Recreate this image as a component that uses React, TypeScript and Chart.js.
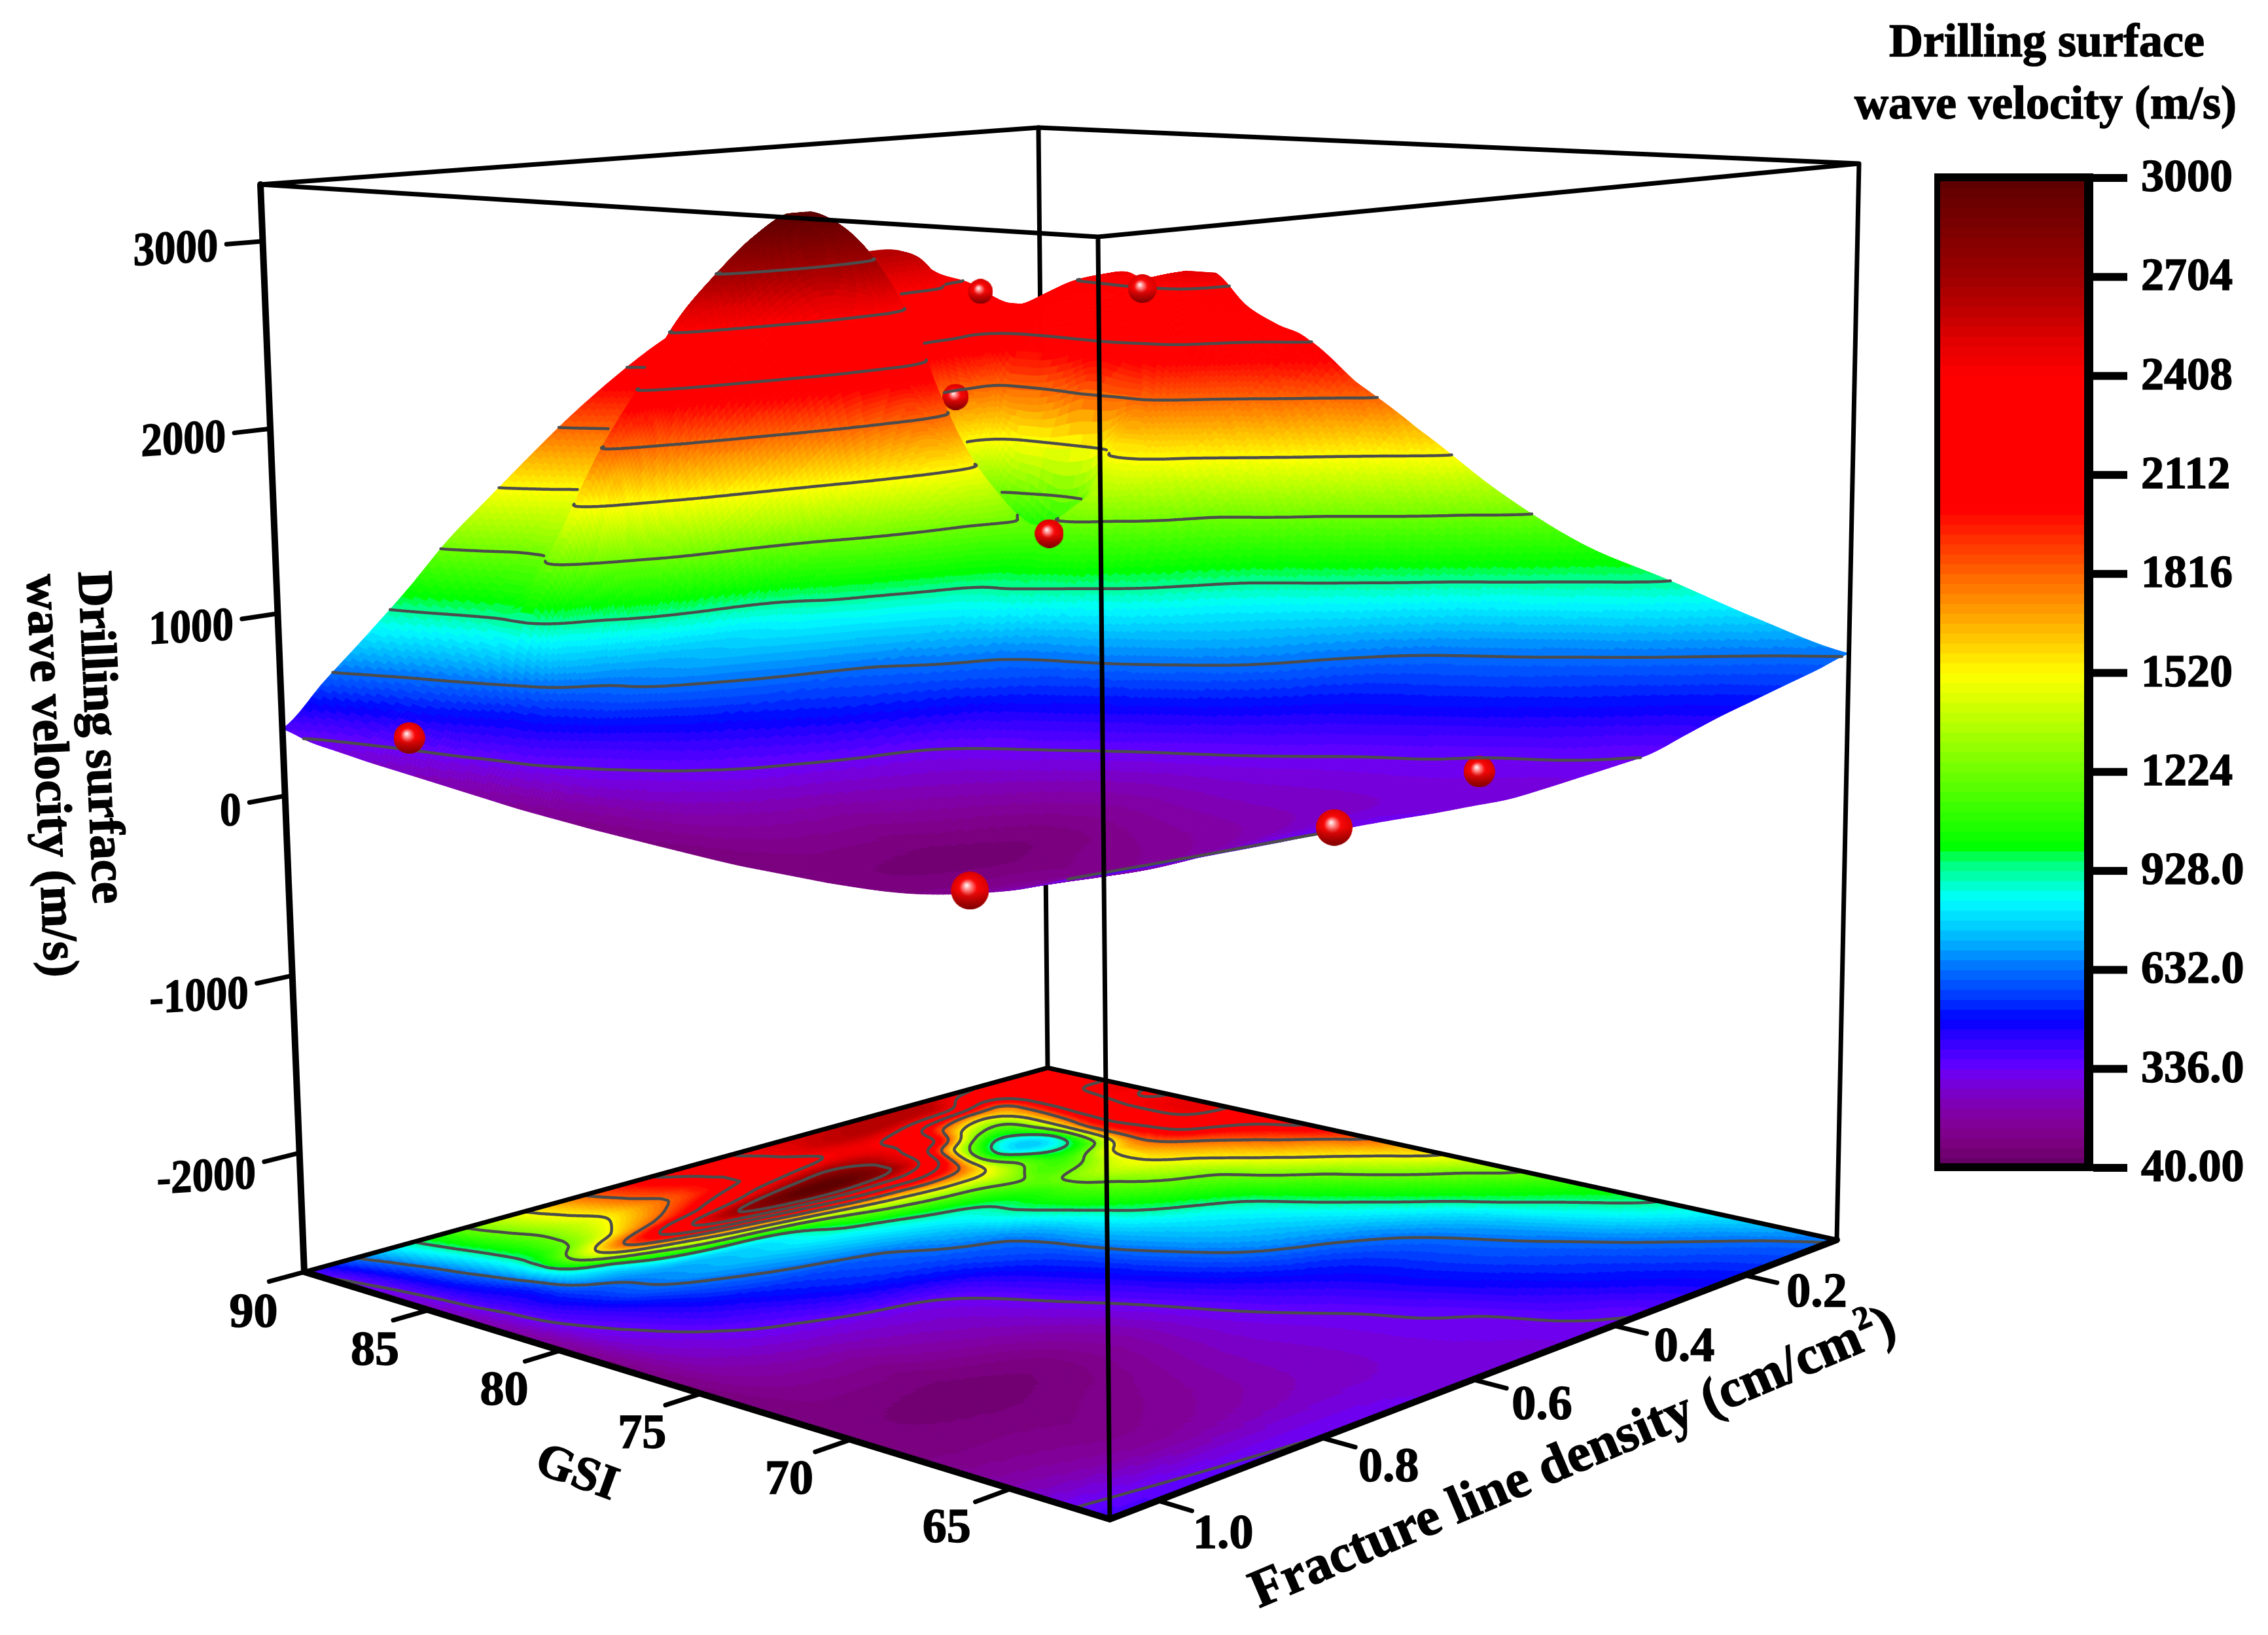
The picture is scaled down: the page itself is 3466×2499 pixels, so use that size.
import { useEffect, useRef } from 'react';
import { Chart, registerables } from 'chart.js';
Chart.register(...registerables);

const W = 3466;
const H = 2499;

// ---------- axis ranges ----------
const GSI_HIGH = 90;
const GSI_LOW = 62.07;
const DENSITY_HIGH = 1.056;
const DENSITY_LOW = 0.05;
const VELOCITY_LOW = -2680;
const VELOCITY_HIGH = 3300;

// ---------- tick labels ----------
const gsiTicks = [90, 85, 80, 75, 70, 65];
const densityTicks = [1.0, 0.8, 0.6, 0.4, 0.2];
const velocityTicks = [3000, 2000, 1000, 0, -1000, -2000];
const colorbarTicks = [3000, 2704, 2408, 2112, 1816, 1520, 1224, 928, 632, 336, 40];
const colorbarLabels = ['3000', '2704', '2408', '2112', '1816', '1520', '1224', '928.0', '632.0', '336.0', '40.00'];
const contourLevels = [336, 632, 928, 1224, 1520, 1816, 2112, 2408, 2704];

// ---------- surface samples ----------
const gsiNodes = [90, 88.88, 87.77, 86.65, 85.53, 84.41, 83.3, 82.18, 81.06, 79.95, 78.27, 76.04, 73.24, 70.45, 67.66, 64.86, 62.07];
const densityNodes = [1.056, 1.006, 0.955, 0.905, 0.855, 0.805, 0.754, 0.704, 0.654, 0.603, 0.553, 0.503, 0.452, 0.402, 0.352, 0.302, 0.251, 0.201, 0.151, 0.1, 0.05];
const velocityRows = [
  [370, 325, 300, 275, 255, 235, 215, 195, 175, 160, 140, 120, 100, 100, 130, 230, 385],
  [590, 530, 480, 450, 420, 395, 365, 345, 315, 290, 250, 200, 140, 100, 125, 215, 375],
  [805, 760, 700, 650, 590, 520, 500, 450, 395, 360, 310, 240, 150, 90, 125, 195, 365],
  [1025, 985, 935, 895, 880, 755, 610, 565, 480, 425, 355, 265, 150, 85, 120, 180, 355],
  [1265, 1205, 1140, 1141, 1316, 880, 692, 645, 560, 480, 390, 285, 185, 95, 135, 190, 345],
  [1465, 1400, 1335, 1410, 1780, 1150, 761, 700, 615, 530, 440, 305, 215, 115, 155, 210, 338],
  [1665, 1590, 1520, 1700, 2120, 1420, 830, 745, 660, 565, 490, 325, 245, 165, 190, 230, 332],
  [1855, 1785, 1720, 1940, 2470, 1650, 900, 795, 700, 600, 525, 365, 285, 215, 230, 250, 320],
  [2025, 1940, 1885, 2200, 2700, 1860, 1050, 860, 745, 640, 560, 430, 340, 270, 265, 265, 305],
  [2180, 2075, 2050, 2440, 2890, 2060, 1260, 945, 800, 700, 600, 500, 405, 330, 290, 280, 295],
  [2310, 2240, 2190, 2620, 3000, 2200, 1450, 1040, 860, 760, 640, 565, 480, 385, 320, 300, 285],
  [2450, 2380, 2330, 2720, 2930, 2220, 1560, 1130, 915, 860, 725, 660, 555, 440, 355, 320, 295],
  [2520, 2520, 2430, 2640, 2710, 2180, 1610, 1190, 1010, 970, 850, 740, 632, 490, 410, 336, 310],
  [2560, 2600, 2440, 2430, 2280, 1880, 1530, 1260, 1120, 1090, 970, 810, 690, 530, 470, 390, 325],
  [2620, 2620, 2300, 2150, 1400, 1060, 1220, 1140, 1270, 1190, 1060, 870, 730, 580, 520, 440, 345],
  [2640, 2560, 1950, 1450, 960, 760, 960, 1210, 1400, 1320, 1140, 945, 790, 630, 565, 490, 400],
  [2620, 2480, 1750, 1280, 1110, 950, 1110, 1540, 1555, 1450, 1230, 1060, 880, 700, 610, 530, 455],
  [2470, 2200, 1780, 1720, 1750, 1840, 1830, 1830, 1720, 1590, 1410, 1170, 985, 790, 670, 575, 500],
  [2380, 2250, 2230, 2230, 2260, 2230, 2180, 2100, 1890, 1750, 1580, 1320, 1090, 910, 760, 625, 545],
  [2210, 2260, 2380, 2410, 2420, 2440, 2420, 2240, 2070, 1930, 1730, 1495, 1200, 1000, 860, 690, 590],
  [2230, 2260, 2400, 2450, 2380, 2480, 2480, 2300, 2200, 2125, 1900, 1650, 1330, 1080, 930, 770, 640],
];

// ---------- measured points (spheres) ----------
const pointGsi = [85.9, 67, 62.1, 63.2, 89.7, 85.9, 87.5, 83.85];
const pointDensity = [1.03, 1.02, 0.78, 0.541, 0.15, 0.056, 0.27, 0.276];
const pointVelocity = [400, 130, 350, 385, 2340, 2360, 1790, 1040];
const pointRadius = [24, 29, 28, 24, 19, 22, 20, 22];
const pointBehindSurface = [false, false, false, true, false, false, true, false];

// ---------- colour map ----------
const colorStopValues = [40, 100, 155, 227, 320, 345, 427, 483, 560, 636, 708, 780, 844, 897, 960, 1001, 1515, 2010, 2408, 2518, 2600, 2696, 2832, 2982, 3000];
const colorStopHex = ['#5f005f', '#78007a', '#800090', '#8000b0', '#7000ee', '#6000ff', '#3000ff', '#0000ff', '#0040ff', '#0070ff', '#00aaff', '#00d8ff', '#00ffff', '#00ffc0', '#00ff70', '#00ff00', '#ffff00', '#ff0000', '#ff0000', '#e00000', '#c00000', '#a00000', '#800000', '#600000', '#5a0000'];
const BAND_COUNT = 100;
const BAND_LOW = 40;
const BAND_STEP = 29.6;

// ---------- view calibration: the box corners as they lie in the picture (L, F, R, B) ----------
const floorCorners = [[465, 1944], [1696, 2322], [2807, 1895], [1601, 1632]];
const topCorners = [[398, 282], [1678, 362], [2841, 250], [1587, 195]];
const HEIGHT_BOW = 0.042;

const FONT = '"Liberation Serif", "Times New Roman", serif';

function squareToQuad(q: number[][]) {
  const [[x0, y0], [x1, y1], [x2, y2], [x3, y3]] = q;
  const dx1 = x1 - x2;
  const dx2 = x3 - x2;
  const sx = x0 - x1 + x2 - x3;
  const dy1 = y1 - y2;
  const dy2 = y3 - y2;
  const sy = y0 - y1 + y2 - y3;
  const den = dx1 * dy2 - dx2 * dy1;
  const g = (sx * dy2 - dx2 * sy) / den;
  const h = (dx1 * sy - sx * dy1) / den;
  return {
    a: x1 - x0 + g * x1, b: x3 - x0 + h * x3, c: x0,
    d: y1 - y0 + g * y1, e: y3 - y0 + h * y3, f: y0,
    g, h,
  };
}
const floorMap = squareToQuad(floorCorners);
const topMap = squareToQuad(topCorners);
function applyMap(m: any, s: number, t: number): [number, number] {
  const D = m.g * s + m.h * t + 1;
  return [(m.a * s + m.b * t + m.c) / D, (m.d * s + m.e * t + m.f) / D];
}

function project(s: number, t: number, w: number): [number, number] {
  const a = applyMap(floorMap, s, t);
  const b = applyMap(topMap, s, t);
  const k = w - HEIGHT_BOW * w * (1 - w);
  return [a[0] + (b[0] - a[0]) * k, a[1] + (b[1] - a[1]) * k];
}

const toS = (g: number) => (GSI_HIGH - g) / (GSI_HIGH - GSI_LOW);
const toT = (d: number) => (DENSITY_HIGH - d) / (DENSITY_HIGH - DENSITY_LOW);
const toW = (v: number) => (v - VELOCITY_LOW) / (VELOCITY_HIGH - VELOCITY_LOW);

function hexRgb(h: string) {
  return [parseInt(h.slice(1, 3), 16), parseInt(h.slice(3, 5), 16), parseInt(h.slice(5, 7), 16)];
}
function colorAt(v: number) {
  let k = 0;
  while (k < colorStopValues.length - 2 && v > colorStopValues[k + 1]) k++;
  const f = Math.max(0, Math.min(1, (v - colorStopValues[k]) / (colorStopValues[k + 1] - colorStopValues[k])));
  const a = hexRgb(colorStopHex[k]);
  const b = hexRgb(colorStopHex[k + 1]);
  return `rgb(${Math.round(a[0] + (b[0] - a[0]) * f)},${Math.round(a[1] + (b[1] - a[1]) * f)},${Math.round(a[2] + (b[2] - a[2]) * f)})`;
}
const bandColors = Array.from({ length: BAND_COUNT }, (_, b) => colorAt(BAND_LOW + (b + 0.5) * BAND_STEP));
const bandOf = (v: number) => Math.max(0, Math.min(BAND_COUNT - 1, Math.floor((v - BAND_LOW) / BAND_STEP)));

function cubic(p0: number, p1: number, p2: number, p3: number, f: number) {
  const v = 0.5 * (2 * p1 + (p2 - p0) * f + (2 * p0 - 5 * p1 + 4 * p2 - p3) * f * f + (3 * p1 - p0 - 3 * p2 + p3) * f * f * f);
  const m = 0.12 * Math.abs(p2 - p1);
  return Math.max(Math.min(p1, p2) - m, Math.min(Math.max(p1, p2) + m, v));
}
function fractionalIndex(nodes: number[], x: number) {
  let k = 0;
  while (k < nodes.length - 2 && x > nodes[k + 1]) k++;
  return k + (x - nodes[k]) / (nodes[k + 1] - nodes[k]);
}

// Render mesh: finer where the surface is steep
const NS_FINE = 230;
const NS_COARSE = 110;
const S_SPLIT = 0.35;
const NS = NS_FINE + NS_COARSE;
const NT = 260;
const meshS = (i: number) =>
  i <= NS_FINE ? (i / NS_FINE) * S_SPLIT : S_SPLIT + ((i - NS_FINE) / NS_COARSE) * (1 - S_SPLIT);
function meshIndexOfS(s: number) {
  return s <= S_SPLIT ? (s / S_SPLIT) * NS_FINE : NS_FINE + ((s - S_SPLIT) / (1 - S_SPLIT)) * NS_COARSE;
}

function buildField() {
  const sNodes = gsiNodes.map(toS);
  const tNodes = densityNodes.map(toT);
  const field = new Float32Array((NS + 1) * (NT + 1));
  const nr = tNodes.length;
  const nc = sNodes.length;
  for (let j = 0; j <= NT; j++) {
    const jf = fractionalIndex(tNodes, j / NT);
    const j0 = Math.min(nr - 2, Math.floor(jf));
    const fj = jf - j0;
    const col = sNodes.map((_, c) =>
      cubic(
        velocityRows[Math.max(0, j0 - 1)][c],
        velocityRows[j0][c],
        velocityRows[j0 + 1][c],
        velocityRows[Math.min(nr - 1, j0 + 2)][c],
        fj,
      ),
    );
    for (let i = 0; i <= NS; i++) {
      const sf = fractionalIndex(sNodes, meshS(i));
      const i0 = Math.min(nc - 2, Math.floor(sf));
      const fi = sf - i0;
      const v = cubic(col[Math.max(0, i0 - 1)], col[i0], col[i0 + 1], col[Math.min(nc - 1, i0 + 2)], fi);
      field[i * (NT + 1) + j] = Math.min(3000, v);
    }
  }
  return field;
}

function sphereSprite(r: number) {
  const c = document.createElement('canvas');
  c.width = c.height = r * 2;
  const g = c.getContext('2d')!;
  const grad = g.createRadialGradient(r * 0.82, r * 0.72, r * 0.03, r, r, r);
  grad.addColorStop(0, '#fff0f0');
  grad.addColorStop(0.2, '#ff8080');
  grad.addColorStop(0.45, '#f80808');
  grad.addColorStop(1, '#d80000');
  g.fillStyle = grad;
  g.beginPath();
  g.arc(r, r, r, 0, Math.PI * 2);
  g.fill();
  const shade = g.createLinearGradient(0, r, 0, r * 2);
  shade.addColorStop(0, 'rgba(90,0,0,0)');
  shade.addColorStop(1, 'rgba(90,0,0,0.7)');
  g.fillStyle = shade;
  g.beginPath();
  g.arc(r, r, r, 0, Math.PI * 2);
  g.fill();
  return c;
}

type Seg = [number, number, number, number, number];

function contourCell(
  va: number, vb: number, vc: number, vd: number,
  ax: number, ay: number, bx: number, by: number, cx: number, cy: number, dx: number, dy: number,
  level: number, order: number, out: Seg[],
) {
  const pts: number[] = [];
  const edge = (v1: number, v2: number, x1: number, y1: number, x2: number, y2: number) => {
    if (v1 < level !== v2 < level) {
      const f = (level - v1) / (v2 - v1);
      pts.push(x1 + (x2 - x1) * f, y1 + (y2 - y1) * f);
    }
  };
  edge(va, vb, ax, ay, bx, by);
  edge(vb, vc, bx, by, cx, cy);
  edge(vc, vd, cx, cy, dx, dy);
  edge(vd, va, dx, dy, ax, ay);
  for (let k = 0; k + 3 < pts.length; k += 4) out.push([pts[k], pts[k + 1], pts[k + 2], pts[k + 3], order]);
}

function renderScene(chart: any) {
  const ctx: CanvasRenderingContext2D = chart.ctx;
  const xs = chart.scales.x;
  const ys = chart.scales.y;
  const field = buildField();
  const stride = NT + 1;
  const count = (NS + 1) * stride;
  const fx = new Float32Array(count);
  const fy = new Float32Array(count);
  const sx = new Float32Array(count);
  const sy = new Float32Array(count);
  for (let i = 0; i <= NS; i++) {
    const s = meshS(i);
    for (let j = 0; j <= NT; j++) {
      const k = i * stride + j;
      const a = project(s, j / NT, 0);
      fx[k] = xs.getPixelForValue(a[0]);
      fy[k] = ys.getPixelForValue(a[1]);
      const b = project(s, j / NT, toW(field[k]));
      sx[k] = xs.getPixelForValue(b[0]);
      sy[k] = ys.getPixelForValue(b[1]);
    }
  }

  // ---- floor map, one path per colour band ----
  ctx.save();
  ctx.lineJoin = 'round';
  ctx.lineWidth = 1.2;
  const floorPaths = bandColors.map(() => new Path2D());
  for (let i = 0; i < NS; i++) {
    for (let j = 0; j < NT; j++) {
      const a = i * stride + j;
      const b = a + stride;
      const c = b + 1;
      const d = a + 1;
      const p = floorPaths[bandOf((field[a] + field[b] + field[c] + field[d]) / 4)];
      p.moveTo(fx[a], fy[a]);
      p.lineTo(fx[b], fy[b]);
      p.lineTo(fx[c], fy[c]);
      p.lineTo(fx[d], fy[d]);
      p.closePath();
    }
  }
  floorPaths.forEach((p, b) => {
    ctx.fillStyle = bandColors[b];
    ctx.strokeStyle = bandColors[b];
    ctx.fill(p);
    ctx.stroke(p);
  });

  const floorSegs: Seg[] = [];
  const surfSegs: Seg[] = [];
  for (let i = 0; i < NS; i++) {
    for (let j = 0; j < NT; j++) {
      const a = i * stride + j;
      const b = a + stride;
      const c = b + 1;
      const d = a + 1;
      const order = i * stride + (NT - j);
      const lo = Math.min(field[a], field[b], field[c], field[d]);
      const hi = Math.max(field[a], field[b], field[c], field[d]);
      for (const level of contourLevels) {
        if (level < lo || level > hi) continue;
        contourCell(field[a], field[b], field[c], field[d], fx[a], fy[a], fx[b], fy[b], fx[c], fy[c], fx[d], fy[d], level, order, floorSegs);
        contourCell(field[a], field[b], field[c], field[d], sx[a], sy[a], sx[b], sy[b], sx[c], sy[c], sx[d], sy[d], level, order, surfSegs);
      }
    }
  }
  ctx.strokeStyle = '#4c4c4c';
  ctx.lineWidth = 4.5;
  ctx.lineCap = 'round';
  ctx.beginPath();
  for (const s of floorSegs) {
    ctx.moveTo(s[0], s[1]);
    ctx.lineTo(s[2], s[3]);
  }
  ctx.stroke();

  // ---- surface, painter's order, far to near ----
  const meta = chart.getDatasetMeta(3);
  const owner = new Int32Array(W * H).fill(-1);
  const behind = new Map<number, number[]>();
  pointGsi.forEach((g, k) => {
    if (!pointBehindSurface[k]) return;
    const i = Math.max(0, Math.min(NS - 1, Math.round(meshIndexOfS(toS(g)))));
    const j = Math.max(0, Math.min(NT - 1, Math.round(toT(pointDensity[k]) * NT)));
    const key = i * stride + j;
    behind.set(key, [...(behind.get(key) || []), k]);
  });
  ctx.lineWidth = 1.2;
  ctx.lineCap = 'butt';
  for (let i = 0; i < NS; i++) {
    let run: Path2D | null = null;
    let runBand = -1;
    const flush = () => {
      if (run) {
        ctx.fillStyle = bandColors[runBand];
        ctx.strokeStyle = bandColors[runBand];
        ctx.fill(run);
        ctx.stroke(run);
      }
      run = null;
      runBand = -1;
    };
    for (let j = NT - 1; j >= 0; j--) {
      const a = i * stride + j;
      const b = a + stride;
      const c = b + 1;
      const d = a + 1;
      const band = bandOf((field[a] + field[b] + field[c] + field[d]) / 4);
      if (band !== runBand) {
        flush();
        run = new Path2D();
        runBand = band;
      }
      run!.moveTo(sx[a], sy[a]);
      run!.lineTo(sx[b], sy[b]);
      run!.lineTo(sx[c], sy[c]);
      run!.lineTo(sx[d], sy[d]);
      run!.closePath();

      const order = i * stride + (NT - j);
      const x0 = Math.max(0, Math.floor(Math.min(sx[a], sx[b], sx[c], sx[d])));
      const x1 = Math.min(W - 1, Math.ceil(Math.max(sx[a], sx[b], sx[c], sx[d])));
      const y0 = Math.max(0, Math.floor(Math.min(sy[a], sy[b], sy[c], sy[d])));
      const y1 = Math.min(H - 1, Math.ceil(Math.max(sy[a], sy[b], sy[c], sy[d])));
      for (let y = y0; y <= y1; y++) {
        for (let x = x0; x <= x1; x++) owner[y * W + x] = order;
      }

      const hidden = behind.get(a);
      if (hidden) {
        flush();
        for (const k of hidden) meta.data[k].draw(ctx, chart.chartArea);
      }
    }
    flush();
  }

  // ---- contour lines over the surface, keeping only the visible stretches ----
  ctx.strokeStyle = '#4c4c4c';
  ctx.lineWidth = 4.5;
  ctx.lineCap = 'round';
  ctx.beginPath();
  const slack = 9 * stride;
  for (const s of surfSegs) {
    const mx = Math.max(0, Math.min(W - 1, Math.round((s[0] + s[2]) / 2)));
    const my = Math.max(0, Math.min(H - 1, Math.round((s[1] + s[3]) / 2)));
    if (owner[my * W + mx] > s[4] + slack) continue;
    ctx.moveTo(s[0], s[1]);
    ctx.lineTo(s[2], s[3]);
  }
  ctx.stroke();

  pointGsi.forEach((_, k) => {
    if (!pointBehindSurface[k]) meta.data[k].draw(ctx, chart.chartArea);
  });
  ctx.restore();
}

function heavyText(ctx: CanvasRenderingContext2D, text: string, x: number, y: number) {
  ctx.fillText(text, x, y);
  ctx.strokeText(text, x, y);
}

function drawColorbar(chart: any) {
  const ctx: CanvasRenderingContext2D = chart.ctx;
  const cb = chart.scales.cb;
  const barTop = 272;
  const barBottom = 1785;
  const yFor = (v: number) => barBottom + ((cb.getPixelForValue(v) - cb.bottom) / (cb.top - cb.bottom)) * (barTop - barBottom);
  ctx.save();
  ctx.beginPath();
  ctx.rect(2965, 277, 220, 1501);
  ctx.clip();
  for (let b = 0; b < BAND_COUNT; b++) {
    const y1 = yFor(BAND_LOW + b * BAND_STEP);
    const y2 = yFor(BAND_LOW + (b + 1) * BAND_STEP);
    ctx.fillStyle = bandColors[b];
    ctx.fillRect(2965, y2 - 0.5, 220, y1 - y2 + 1);
  }
  ctx.restore();
  ctx.save();
  ctx.fillStyle = '#000';
  ctx.strokeStyle = '#000';
  ctx.lineWidth = 1.5;
  ctx.fillRect(2956, 265, 9, 1525);
  ctx.fillRect(3185, 265, 14, 1525);
  ctx.fillRect(2956, 265, 243, 12);
  ctx.fillRect(2956, 1778, 243, 12);
  ctx.font = `bold 70px ${FONT}`;
  ctx.textBaseline = 'middle';
  ctx.textAlign = 'left';
  colorbarTicks.forEach((v, k) => {
    const y = yFor(v);
    ctx.fillRect(3199, y - 6, 52, 12);
    heavyText(ctx, colorbarLabels[k], 3272, y + 2);
  });
  ctx.textAlign = 'center';
  ctx.textBaseline = 'alphabetic';
  ctx.font = `bold 72px ${FONT}`;
  heavyText(ctx, 'Drilling surface', 3128, 86);
  heavyText(ctx, 'wave velocity (m/s)', 3126, 181);
  ctx.restore();
}

function drawLabels(chart: any) {
  const ctx: CanvasRenderingContext2D = chart.ctx;
  ctx.save();
  ctx.fillStyle = '#000';
  ctx.strokeStyle = '#000';
  ctx.lineWidth = 1.5;
  ctx.textAlign = 'center';
  ctx.textBaseline = 'middle';
  ctx.font = `bold 74px ${FONT}`;
  gsiTicks.forEach((g) => {
    const s = toS(g);
    const p = project(s, -0.04, 0);
    heavyText(ctx, String(g), p[0] - 24 - 22 * s, p[1] + 42 + 8 * (1 - s));
  });
  densityTicks.forEach((d) => {
    const t = toT(d);
    const p = project(1.035, t, 0);
    heavyText(ctx, d.toFixed(1), p[0] + 47 + 16 * t, p[1] + 39 - 25 * t);
  });
  velocityTicks.forEach((v) => {
    const p = project(0, -0.04, toW(v));
    ctx.save();
    ctx.font = `bold 72px ${FONT}`;
    ctx.textAlign = 'right';
    ctx.transform(0.9, -0.05, 0, 1, p[0] - 13, p[1] + 14 + (500 - v) * 0.003);
    heavyText(ctx, String(v), 0, 0);
    ctx.restore();
  });

  ctx.save();
  ctx.translate(881, 2253);
  ctx.rotate((20 * Math.PI) / 180);
  ctx.font = `bold 74px ${FONT}`;
  heavyText(ctx, 'GSI', 0, 0);
  ctx.restore();

  ctx.save();
  ctx.textBaseline = 'alphabetic';
  ctx.textAlign = 'left';
  ctx.translate(1924, 2458);
  ctx.rotate((-23 * Math.PI) / 180);
  ctx.font = `bold 82px ${FONT}`;
  const main = 'Fracture line density (cm/cm';
  heavyText(ctx, main, 0, 0);
  const mw = ctx.measureText(main).width;
  ctx.font = `bold 50px ${FONT}`;
  heavyText(ctx, '2', mw + 2, -32);
  ctx.font = `bold 82px ${FONT}`;
  heavyText(ctx, ')', mw + 28, 0);
  ctx.restore();

  const side: [string, number, number][] = [
    ['Drilling surface', 120, 874],
    ['wave velocity (m/s)', 41, 879],
  ];
  side.forEach(([txt, x, y]) => {
    ctx.save();
    ctx.textBaseline = 'alphabetic';
    ctx.textAlign = 'left';
    ctx.translate(x, y);
    ctx.rotate((87.4 * Math.PI) / 180);
    ctx.font = `bold 76px ${FONT}`;
    heavyText(ctx, txt, 0, 0);
    ctx.restore();
  });
  ctx.restore();
}

const scenePlugin = {
  id: 'scene',
  beforeDraw(chart: any) {
    const { ctx } = chart;
    ctx.save();
    ctx.fillStyle = '#fff';
    ctx.fillRect(0, 0, W, H);
    ctx.restore();
  },
  beforeDatasetDraw(chart: any, args: any) {
    if (args.index === 3) {
      renderScene(chart);
      return false;
    }
    return undefined;
  },
  afterDatasetsDraw(chart: any) {
    drawColorbar(chart);
    drawLabels(chart);
  },
};

function polyline(points: [number, number, number][][]) {
  const out: any[] = [];
  points.forEach((line, k) => {
    if (k > 0) out.push({ x: null, y: null });
    line.forEach(([s, t, w]) => {
      const p = project(s, t, w);
      out.push({ x: p[0], y: p[1] });
    });
  });
  return out;
}

function lineSet(data: any[], width: number) {
  return { data, showLine: true, spanGaps: false, borderColor: '#000', borderWidth: width, pointRadius: 0, tension: 0, borderCapStyle: 'round', clip: false };
}

export default function App() {
  const ref = useRef<HTMLCanvasElement>(null);
  useEffect(() => {
    const thick = polyline([
      [[0, 0, 0], [1, 0, 0], [1, 1, 0]],
      [[0, 0, 0], [0, 0, 1]],
    ]);
    const thin = polyline([
      [[0, 0, 0], [0, 1, 0], [1, 1, 0]],
      [[0, 0, 1], [1, 0, 1], [1, 1, 1], [0, 1, 1], [0, 0, 1]],
      [[1, 0, 0], [1, 0, 1]],
      [[1, 1, 0], [1, 1, 1]],
    ]);
    const ticks = polyline([
      ...gsiTicks.map((g) => [[toS(g), 0, 0], [toS(g), -0.04, 0]] as [number, number, number][]),
      ...densityTicks.map((d) => [[1, toT(d), 0], [1.035, toT(d), 0]] as [number, number, number][]),
      ...velocityTicks.map((v) => [[0, 0, toW(v)], [0, -0.04, toW(v)]] as [number, number, number][]),
    ]);
    const back = polyline([[[0, 1, 0], [0, 1, 1]]]);
    const spheres = pointGsi.map((g, k) => {
      const p = project(toS(g), toT(pointDensity[k]), toW(pointVelocity[k]));
      return { x: p[0], y: p[1] };
    });
    const chart = new Chart(ref.current!, {
      type: 'scatter',
      data: {
        datasets: [
          lineSet(thick, 10),
          lineSet(thin, 7),
          lineSet(ticks, 7),
          {
            data: spheres,
            pointRadius,
            pointStyle: pointRadius.map((r) => sphereSprite(r)),
            showLine: false,
          },
          lineSet(back, 7),
        ] as any,
      },
      options: {
        responsive: false,
        animation: false,
        events: [],
        layout: { padding: 0, autoPadding: false },
        plugins: { legend: { display: false }, tooltip: { enabled: false }, title: { display: false } },
        scales: {
          x: { type: 'linear', min: 0, max: W, display: false },
          y: { type: 'linear', min: 0, max: H, reverse: true, display: false },
          cb: { type: 'linear', axis: 'y', min: BAND_LOW, max: 3000, display: false },
        },
      } as any,
      plugins: [scenePlugin as any],
    });
    return () => chart.destroy();
  }, []);
  return <canvas ref={ref} width={W} height={H} style={{ display: 'block', position: 'absolute', left: 0, top: 0 }} />;
}
